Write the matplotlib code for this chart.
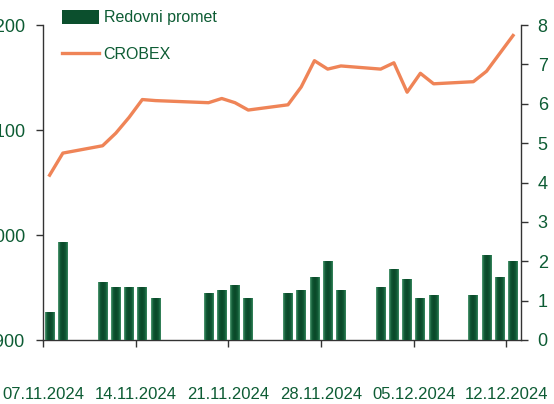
import matplotlib
matplotlib.use("Agg")
import matplotlib.pyplot as plt
import numpy as np
import pandas as pd
from matplotlib.colors import LinearSegmentedColormap
from matplotlib.lines import Line2D
from matplotlib.patches import Rectangle

plt.rcParams["font.family"] = ["Liberation Sans", "DejaVu Sans"]

dates = [
    "07.11.2024", "08.11.2024",
    "11.11.2024", "12.11.2024", "13.11.2024", "14.11.2024", "15.11.2024",
    "19.11.2024", "20.11.2024", "21.11.2024", "22.11.2024",
    "25.11.2024", "26.11.2024", "27.11.2024", "28.11.2024", "29.11.2024",
    "02.12.2024", "03.12.2024", "04.12.2024", "05.12.2024", "06.12.2024",
    "09.12.2024", "10.12.2024", "11.12.2024", "12.12.2024",
]
# redovni promet (mil. EUR), right axis
turnover = [
    0.72, 2.48,
    1.48, 1.34, 1.34, 1.34, 1.07,
    1.20, 1.27, 1.39, 1.07,
    1.20, 1.27, 1.61, 2.00, 1.27,
    1.34, 1.81, 1.54, 1.07, 1.14,
    1.14, 2.15, 1.61, 2.00,
]
# CROBEX, left axis
crobex = [
    2057, 2078,
    2085, 2097, 2112, 2129, 2128,
    2126, 2130, 2126, 2119,
    2124, 2141, 2166, 2158, 2161,
    2158, 2164, 2136, 2154, 2144,
    2146, 2156, 2173, 2190,
]
tick_dates = ["07.11.2024", "14.11.2024", "21.11.2024", "28.11.2024", "05.12.2024", "12.12.2024"]
left_ticks = [1900, 2000, 2100, 2200]
left_labels = ["1.900", "2.000", "2.100", "2.200"]
right_ticks = list(range(0, 9))

GREEN_TEXT = "#0d5c34"
ORANGE = "#ef8457"
SPINE = "#333333"

d = pd.to_datetime(dates, format="%d.%m.%Y")
start = d[0]
x = np.array([(v - start).days for v in d]) + 0.5
tx = [(pd.to_datetime(t, format="%d.%m.%Y") - start).days for t in tick_dates]

fig = plt.figure(figsize=(5.54, 4.04), dpi=100)
ax = fig.add_axes([43 / 554, 1 - 340 / 404, (521 - 43) / 554, (340 - 25) / 404])
ax2 = ax.twinx()

ax.plot(x, crobex, color=ORANGE, linewidth=2.4, zorder=3)
ax.set_ylim(1900, 2200)
ax.set_yticks(left_ticks)
ax.set_yticklabels(left_labels)

bars = ax2.bar(x, turnover, width=0.74, color="#0b4f2d", zorder=2)
cmap = LinearSegmentedColormap.from_list(
    "bar", [(0, "#5aa37c"), (0.2, "#0f5a35"), (0.5, "#0a4628"), (0.8, "#0f5a35"), (1, "#3f8d64")]
)
grad = np.linspace(0, 1, 64).reshape(1, -1)
for p in bars:
    x0, y0 = p.get_x(), p.get_y()
    w, h = p.get_width(), p.get_height()
    im = ax2.imshow(grad, cmap=cmap, aspect="auto", extent=(x0, x0 + w, y0, y0 + h),
                    zorder=2.5, interpolation="bicubic")
    im.set_clip_path(p)
ax2.set_ylim(0, 8)
ax2.set_yticks(right_ticks)
ax.set_xlim(0, 36.1)

ax.set_xticks(tx)
ax.set_xticklabels(tick_dates)

for a in (ax, ax2):
    a.spines["top"].set_visible(False)
    for s in a.spines.values():
        s.set_color(SPINE)
        s.set_linewidth(1.0)
ax.spines["right"].set_visible(False)
ax2.spines["left"].set_visible(False)
ax2.spines["bottom"].set_visible(False)

ax.tick_params(axis="y", direction="out", length=5, width=1, color=SPINE,
               labelsize=13, labelcolor=GREEN_TEXT, pad=8)
ax.tick_params(axis="x", direction="out", length=5, width=1, color=SPINE,
               labelsize=12, labelcolor=GREEN_TEXT, pad=29)
ax2.tick_params(axis="y", direction="out", length=5, width=1, color=SPINE,
                labelsize=13, labelcolor=GREEN_TEXT, pad=7)

handles = [
    Rectangle((0, 0), 1, 1, facecolor="#0b4f2d"),
    Line2D([0], [0], color=ORANGE, linewidth=2.4),
]
leg = fig.legend(handles, ["Redovni promet", "CROBEX"], loc="upper left",
                 bbox_to_anchor=(62 / 554, 1 - 10 / 404), frameon=False,
                 fontsize=11.5, handlelength=2.3, handleheight=0.95,
                 handletextpad=0.3, labelspacing=1.35, borderpad=0, borderaxespad=0)
for t in leg.get_texts():
    t.set_color(GREEN_TEXT)

fig.savefig("out.png", dpi=100)
